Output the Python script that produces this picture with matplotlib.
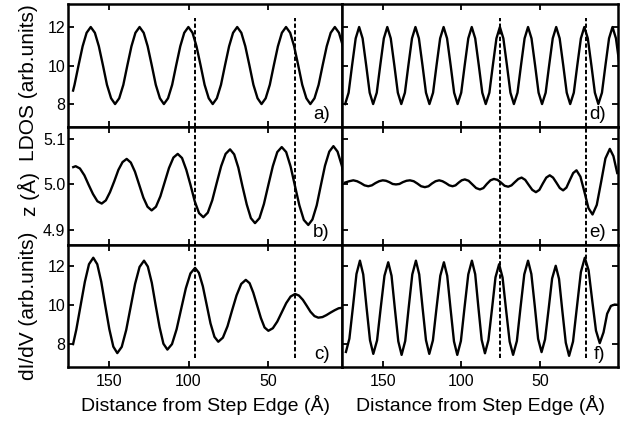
import matplotlib
matplotlib.use('Agg')
import matplotlib.pyplot as plt

plt.rcParams['font.family'] = ['Liberation Sans', 'DejaVu Sans']

# a) LDOS, left column
xa = [172.6, 171.7, 169.2, 166.6, 164.1, 161.5, 158.9, 156.4, 153.8, 151.3, 148.7, 146.2,
      143.6, 141.0, 138.5, 135.9, 133.4, 130.8, 128.2, 125.7, 123.1, 120.6, 118.0, 115.5,
      112.9, 110.3, 107.8, 105.2, 102.7, 100.1, 97.5, 95.0, 92.4, 89.9, 87.3, 84.8,
      82.2, 79.6, 77.1, 74.5, 72.0, 69.4, 66.8, 64.3, 61.7, 59.2, 56.6, 54.1,
      51.5, 48.9, 46.4, 43.8, 41.3, 38.7, 36.1, 33.6, 31.0, 28.5, 25.9, 23.4,
      20.8, 18.2, 15.7, 13.1, 10.6, 8.0, 5.4, 2.9, 0.3]
ya = [8.7, 9.0, 10.0, 11.0, 11.7, 12.0,
      11.7, 11.0, 10.0, 9.0, 8.3, 8.0, 8.3, 9.0, 10.0, 11.0, 11.7, 12.0,
      11.7, 11.0, 10.0, 9.0, 8.3, 8.0, 8.3, 9.0, 10.0, 11.0, 11.7, 12.0,
      11.7, 11.0, 10.0, 9.0, 8.3, 8.0, 8.3, 9.0, 10.0, 11.0, 11.7, 12.0,
      11.7, 11.0, 10.0, 9.0, 8.3, 8.0, 8.3, 9.0, 10.0, 11.0, 11.7, 12.0,
      11.7, 11.0, 10.0, 9.0, 8.3, 8.0, 8.3, 9.0, 10.0, 11.0, 11.7, 12.0,
      11.7, 11.0, 10.0]

# b) z (A), left column
xb = [172.5, 171.0, 168.3, 165.5, 162.8, 160.1, 157.3, 154.6, 152.0, 149.4, 146.7, 144.1,
      141.5, 138.9, 136.3, 133.7, 131.1, 128.4, 125.8, 123.2, 120.5, 117.7, 115.0, 112.3,
      109.5, 106.8, 104.1, 101.4, 98.7, 96.1, 93.4, 90.7, 87.9, 85.1, 82.3, 79.5,
      76.7, 73.9, 71.3, 68.7, 66.1, 63.4, 60.8, 58.2, 55.4, 52.6, 49.8, 47.0,
      44.2, 41.4, 38.6, 35.8, 33.1, 30.3, 27.5, 24.7, 22.1, 19.4, 16.8, 14.2,
      11.5, 8.9, 6.3, 3.6, 1.0]
yb = [5.038, 5.040, 5.035, 5.020, 4.999, 4.979, 4.963, 4.958, 4.965, 4.983, 5.007, 5.032,
      5.049, 5.056, 5.048, 5.028, 5.000, 4.971, 4.951, 4.943, 4.951, 4.974, 5.005, 5.036,
      5.059, 5.067, 5.058, 5.032, 4.998, 4.963, 4.937, 4.928, 4.938, 4.965, 5.003, 5.040,
      5.067, 5.077, 5.066, 5.037, 4.996, 4.956, 4.926, 4.915, 4.926, 4.957, 4.999, 5.040,
      5.071, 5.082, 5.071, 5.039, 4.997, 4.954, 4.922, 4.911, 4.923, 4.954, 4.998, 5.041,
      5.072, 5.084, 5.072, 5.041, 4.997]

# c) dI/dV, left column
xc = [172.6, 170.6, 167.9, 165.2, 162.6, 159.9, 157.4, 154.9, 152.4, 149.8, 147.3, 144.8,
      142.0, 139.2, 136.4, 133.6, 130.8, 128.0, 125.6, 123.1, 120.7, 118.2, 115.8, 113.3,
      110.4, 107.5, 104.6, 101.7, 98.8, 95.9, 93.5, 91.0, 88.6, 86.2, 83.7, 81.3,
      78.4, 75.5, 72.7, 69.8, 66.9, 64.0, 61.6, 59.3, 56.9, 54.5, 52.2, 49.8,
      47.0, 44.2, 41.4, 38.6, 35.8, 33.0, 30.6, 28.1, 25.7, 23.3, 20.8, 18.4,
      15.8, 13.3, 10.7, 8.1, 5.6, 3.0, 0.4]
yc = [8.00, 8.73, 9.96, 11.18, 12.08, 12.41, 12.08, 11.19, 9.98, 8.76, 7.87, 7.54,
      7.86, 8.72, 9.90, 11.08, 11.94, 12.26, 11.96, 11.13, 9.99, 8.86, 8.02, 7.72,
      8.00, 8.76, 9.81, 10.85, 11.61, 11.89, 11.64, 10.95, 10.01, 9.06, 8.37, 8.12,
      8.33, 8.91, 9.70, 10.49, 11.07, 11.28, 11.11, 10.63, 9.98, 9.33, 8.85, 8.68,
      8.81, 9.15, 9.62, 10.09, 10.43, 10.56, 10.48, 10.26, 9.96, 9.65, 9.43, 9.35,
      9.38, 9.48, 9.61, 9.73, 9.83, 9.86, 9.84]

# d) LDOS, right column
xd = [173.9, 171.7, 169.5, 167.2, 165.0, 162.8, 160.5, 158.3, 156.1, 153.8, 151.6, 149.3,
      147.1, 144.9, 142.6, 140.4, 138.2, 135.9, 133.7, 131.4, 129.2, 127.0, 124.7, 122.5,
      120.3, 118.0, 115.8, 113.5, 111.3, 109.1, 106.8, 104.6, 102.4, 100.1, 97.9, 95.6,
      93.4, 91.2, 88.9, 86.7, 84.5, 82.2, 80.0, 77.7, 75.5, 73.3, 71.0, 68.8,
      66.6, 64.3, 62.1, 59.8, 57.6, 55.4, 53.1, 50.9, 48.7, 46.4, 44.2, 41.9,
      39.7, 37.5, 35.2, 33.0, 30.8, 28.5, 26.3, 24.0, 21.8, 19.6, 17.3, 15.1,
      12.9, 10.6, 8.4, 6.1, 3.9, 1.7, -0.6]
yd = [8.0, 8.59, 10.0, 11.41, 12.0,
      11.41, 10.0, 8.59, 8.0, 8.59, 10.0, 11.41, 12.0,
      11.41, 10.0, 8.59, 8.0, 8.59, 10.0, 11.41, 12.0,
      11.41, 10.0, 8.59, 8.0, 8.59, 10.0, 11.41, 12.0,
      11.41, 10.0, 8.59, 8.0, 8.59, 10.0, 11.41, 12.0,
      11.41, 10.0, 8.59, 8.0, 8.59, 10.0, 11.41, 12.0,
      11.41, 10.0, 8.59, 8.0, 8.59, 10.0, 11.41, 12.0,
      11.41, 10.0, 8.59, 8.0, 8.59, 10.0, 11.41, 12.0,
      11.41, 10.0, 8.59, 8.0, 8.59, 10.0, 11.41, 12.0,
      11.41, 10.0, 8.59, 8.0, 8.59, 10.0, 11.41, 12.0,
      11.41, 10.0]

# e) z (A), right column
xe = [174.0, 171.3, 168.7, 166.3, 164.0, 161.6, 159.2, 156.9, 154.6, 152.3, 150.0, 147.9,
      145.8, 143.7, 141.6, 139.4, 137.2, 134.9, 132.7, 130.3, 128.0, 125.6, 123.2, 120.9,
      118.7, 116.4, 114.1, 112.0, 109.9, 107.7, 105.6, 103.7, 101.7, 99.8, 97.8, 95.4,
      93.0, 90.6, 88.2, 86.0, 83.8, 81.5, 79.3, 77.0, 74.8, 72.5, 70.2, 68.1,
      66.0, 63.8, 61.7, 59.4, 57.2, 54.9, 52.6, 50.4, 48.2, 46.0, 43.8, 41.7,
      39.6, 37.4, 35.3, 33.2, 31.1, 28.9, 26.8, 24.3, 21.7, 19.2, 16.6, 13.9,
      11.1, 8.4, 5.6, 3.3, 0.9]
ye = [5.004, 5.007, 5.009, 5.007, 5.003, 4.998, 4.996, 4.998, 5.003, 5.007, 5.009, 5.008,
      5.005, 5.001, 5.000, 5.001, 5.005, 5.008, 5.009, 5.007, 5.002, 4.996, 4.994, 4.996,
      5.002, 5.007, 5.009, 5.007, 5.003, 4.998, 4.996, 4.998, 5.004, 5.009, 5.011, 5.008,
      5.000, 4.992, 4.989, 4.992, 5.001, 5.009, 5.012, 5.010, 5.004, 4.997, 4.995, 4.998,
      5.005, 5.012, 5.015, 5.010, 4.999, 4.988, 4.983, 4.988, 5.002, 5.015, 5.020, 5.015,
      5.004, 4.992, 4.987, 4.993, 5.009, 5.025, 5.031, 5.017, 4.983, 4.948, 4.934, 4.955,
      5.006, 5.057, 5.078, 5.062, 5.025]

# f) dI/dV, right column
xf = [173.4, 171.2, 168.9, 166.7, 164.5, 162.4, 160.3, 158.1, 156.0, 153.6, 151.3, 148.9,
      146.5, 144.4, 142.3, 140.1, 138.0, 135.7, 133.5, 131.2, 128.9, 126.8, 124.7, 122.5,
      120.4, 118.1, 115.8, 113.4, 111.1, 109.0, 106.9, 104.7, 102.6, 100.3, 98.0, 95.6,
      93.3, 91.2, 89.2, 87.1, 85.0, 82.8, 80.5, 78.3, 76.0, 73.8, 71.6, 69.3,
      67.1, 64.7, 62.4, 60.0, 57.6, 55.5, 53.3, 51.2, 49.0, 46.8, 44.5, 42.3,
      40.0, 37.9, 35.8, 33.6, 31.5, 29.0, 26.5, 24.0, 21.5, 19.1, 16.8, 14.4,
      12.0, 9.6, 7.3, 4.9, 2.5, 0.3]
yf = [7.60, 8.28, 9.93, 11.58, 12.26, 11.56, 9.88, 8.20, 7.50, 8.19, 9.84, 11.49,
      12.18, 11.49, 9.82, 8.14, 7.45, 8.16, 9.86, 11.56, 12.26, 11.56, 9.88, 8.20,
      7.50, 8.19, 9.84, 11.49, 12.18, 11.49, 9.82, 8.14, 7.45, 8.16, 9.86, 11.56,
      12.26, 11.57, 9.90, 8.22, 7.53, 8.20, 9.81, 11.41, 12.08, 11.40, 9.77, 8.13,
      7.45, 8.16, 9.86, 11.56, 12.26, 11.58, 9.93, 8.27, 7.59, 8.24, 9.80, 11.35,
      12.00, 11.33, 9.70, 8.07, 7.40, 8.13, 9.91, 11.68, 12.41, 11.77, 10.23, 8.69,
      8.05, 8.60, 9.55, 9.95, 10.02, 10.00]

xticks = [50, 100, 150]
yticks_ldos = [8, 10, 12]
yticks_z = [4.9, 5.0, 5.1]
ytick_labels_z = ['4.9', '5.0', '5.1']
dashes_left = [96.0, 33.1]
dashes_right = [75.7, 20.9]
panel_letters = ['a)', 'b)', 'c)', 'd)', 'e)', 'f)']
ylabels = ['LDOS (arb.units)', 'z (Å)', 'dI/dV (arb.units)']
xlabel = 'Distance from Step Edge (Å)'

fig = plt.figure(figsize=(6.3, 4.22), dpi=100)

# axes rectangles in figure fractions
rows = [(0.6991, 0.2903), (0.4194, 0.2796), (0.1303, 0.2891)]
cols = [(68 / 630, 274 / 630), (342 / 630, 276 / 630)]
xlims = [(175.8, 3.5), (175.9, 0.4)]
ylims = [(6.81, 13.17), (4.867, 5.126), (6.83, 13.06)]
dash_span = [(0.0, 0.89), (0.0, 1.0), (0.074, 1.0)]

data = [[(xa, ya), (xb, yb), (xc, yc)],
        [(xd, yd), (xe, ye), (xf, yf)]]

for c in range(2):
    for r in range(3):
        left, width = cols[c]
        bottom, height = rows[r]
        ax = fig.add_axes([left, bottom, width, height])
        x, y = data[c][r]
        ax.plot(x, y, color='black', lw=1.7, solid_joinstyle='round')
        ax.set_xlim(*xlims[c])
        ax.set_ylim(*ylims[r])
        dpos = dashes_left if c == 0 else dashes_right
        for d in dpos:
            ax.axvline(d, ymin=dash_span[r][0], ymax=dash_span[r][1],
                       color='black', lw=1.4, linestyle=(0, (2.2, 1.2)))
        ax.set_xticks(xticks)
        if r == 1:
            ax.set_yticks(yticks_z)
            ax.set_yticklabels(ytick_labels_z)
        else:
            ax.set_yticks(yticks_ldos)
        ax.tick_params(direction='in', length=4, width=1.3, top=True,
                       right=(c == 1), labelsize=11.5, colors='black')
        ax.tick_params(axis='x', pad=5, labelbottom=(r == 2))
        ax.tick_params(axis='y', pad=2, labelleft=(c == 0))
        for sp in ax.spines.values():
            sp.set_linewidth(1.8)
        ax.text(0.955, 0.065, panel_letters[c * 3 + r], transform=ax.transAxes,
                ha='right', va='baseline', fontsize=13.5)
        if r == 2:
            ax.set_xlabel(xlabel, fontsize=14, labelpad=4)

fig.text(29 / 630, 1 - 83 / 422, ylabels[0], rotation=90, ha='center', va='center', fontsize=15)
fig.text(29 / 630, 1 - 194 / 422, ylabels[1], rotation=90, ha='center', va='center', fontsize=15)
fig.text(29 / 630, 1 - 306 / 422, ylabels[2], rotation=90, ha='center', va='center', fontsize=15)

fig.savefig('out.png', dpi=100)
